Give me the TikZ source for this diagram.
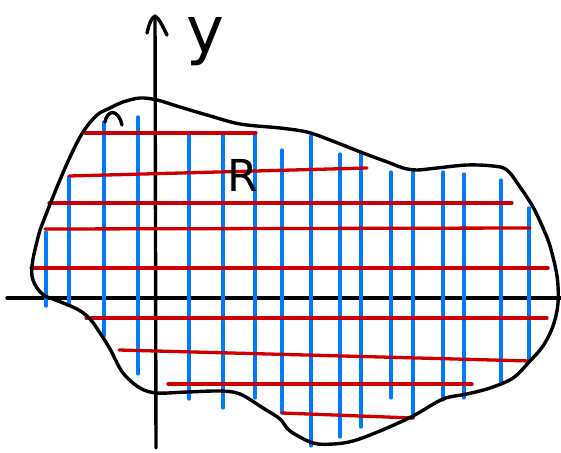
\documentclass[tikz,border=0pt]{standalone}
\usepackage{fontspec}
\newfontfamily\handfont{DejaVu Sans}
\definecolor{gridblue}{RGB}{0,122,255}
\definecolor{gridred}{RGB}{204,0,0}
\tikzset{
  axisline/.style={line width=3.4pt,black,line cap=round,line join=round},
  outline/.style={line width=3.4pt,black,line cap=round,line join=round},
  vstrip/.style={line width=3.3pt,gridblue,line cap=round},
  hstrip/.style={line width=3.3pt,gridred,line cap=round},
  handlabel/.style={inner sep=0pt,font=\handfont}
}
\begin{document}
\begin{tikzpicture}[x=1pt,y=-1pt]
\useasboundingbox (0,0) rectangle (561,452);
% axes
\coordinate (xl) at (7,298);
\coordinate (xr) at (561,298);
\coordinate (yb) at (156,448);
\coordinate (yt) at (155,16);
\draw[axisline] (xl) -- (xr);
\draw[axisline] (yb) -- (yt);
\coordinate (al) at (147,33);
\coordinate (ar) at (167,35);
\draw[axisline] (al) .. controls (149,25) and (151,18) .. (yt) .. controls (159,18) and (163,27) .. (ar);
% blue vertical strips
\foreach \x/\t/\b in {46/232/306,69/177/304,104/122/336,138/117/374,189/135/399,223/135/408,255/133/398,282/150/413,311/136/446,340/154/437,361/152/427,391/172/398,413/172/418,443/172/400,464/174/398,501/180/383,529/208/361}
  \draw[vstrip] (\x,\t) -- (\x,\b);
% red horizontal strips
\foreach \xa/\ya/\xb/\yb in {85/133/256/133,69/176/367/168,49/203/512/203,45/229/530/228,31/268/548/268,86/318/547/318,119/350/530/361,168/384/472/384,282/413/413/418}
  \draw[hstrip] (\xa,\ya) -- (\xb,\yb);
% region outline
\draw[outline] plot[smooth cycle,tension=0.55] coordinates {
(40,230) (45,217) (57,187) (70,157) (83,132) (97,115) (110,108) (123,102) (140,98) (157,100) (180,107) (207,115) (240,124) (280,128)
(307,132) (330,140) (363,153) (390,163) (403,168) (417,170) (437,168) (467,165) (493,166) (507,170) (520,187) (533,207) (543,228)
(550,246) (557,276) (558,303) (553,326) (543,346) (530,361) (513,378) (490,388) (467,394) (443,399) (413,416) (380,431) (353,441)
(333,444) (313,443) (290,431) (280,419) (263,408) (240,394) (220,391) (187,392) (157,393) (140,388) (123,373) (110,349) (100,333)
(90,319) (77,309) (53,299) (45,296) (37,288) (32,276) (33,259)};
% small hook stroke
\draw[outline] (105,122) .. controls (107,110) and (118,108) .. (122,125);
% labels
\node[handlabel,font=\handfont\fontsize{64}{64}\selectfont] (ylab) at (205,42) {y};
\node[handlabel,font=\handfont\fontsize{44}{44}\selectfont] (rlab) at (243,175) {R};
\end{tikzpicture}
\end{document}
